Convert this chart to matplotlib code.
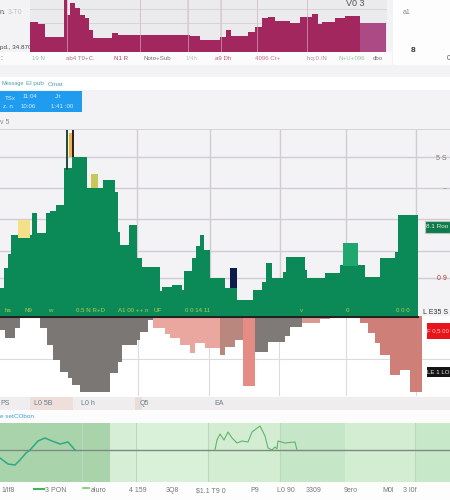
import matplotlib
matplotlib.use("Agg")
import matplotlib.pyplot as plt
from matplotlib.patches import Rectangle
import numpy as np

plt.rcParams['font.family'] = ['Liberation Sans', 'DejaVu Sans']

# ---------- data ----------
top_edges = [30,38,41,45,64,67,70,75,80,85,89,93,112,118,140,190,200,220,226,231,248,255,262,268,275,290,300,312,318,322,335,345,360,386]
top_values = [30,28,28,15,52,37,49,44,37,34,22,14,19,17,17,16,12,15,22,16,20,25,34,35,31,29,35,38,28,30,34,36,29]
top_light_from = 360

main_edges = [0,4,8,11,32,37,46,50,56,64,72,87,90,103,115,118,120,129,137,142,160,162,172,182,184,192,196,200,204,210,225,237,253,262,266,272,283,286,305,307,325,340,343,358,365,380,395,398,418]
main_values = [28,48,62,81,103,83,103,105,111,148,159,128,128,136,124,84,71,91,58,49,25,29,31,26,45,58,70,81,66,38,28,16,26,34,53,38,44,59,46,38,43,51,62,51,39,58,64,101]
spike_x = [67, 73]
spike_top = [186, 186]
spike_base = [146, 159]
spike_colors = ['#1f4a33', '#2a2018']
bump_edges = [18, 30, 91, 98, 69, 73, 230, 237]
bump_tops = [96, 96, 142, 142, 183, 183, 48, 48]
bump_bases = [78, 78, 128, 128, 159, 159, 28, 28]
bump_colors = ['#f5e08a', '#c9c65a', '#eeb04a', '#0b1d4d']
highlight_x = [343, 358]
highlight_value = [73, 73]

neg_edges = [0,5,15,20,40,47,53,60,68,72,80,110,118,122,137,140,148,153,165,170,180,190,195,205,220,225,235,243,255,268,285,290,302,320,330,350,355,360,368,375,380,390,400,410,422]
neg_values = [14,22,12,2,12,29,44,56,62,69,76,57,46,29,24,16,4,12,18,22,29,37,27,32,39,31,24,70,36,26,20,11,7,3,0,4,0,7,17,27,39,59,54,76]
neg_seg_edges = [0,150,210,243,255,300,330,360,422]
neg_seg_colors = ['#7b7775','#e9a79f','#b9877e','#e58d84','#7f7a78','#d99a90','#ffffff','#cd7f78']

band_edges = [0,110,135,208,280,345,415,450]
band_colors = ['#a9d4ab','#d6eed6','#d9f0d9','#d3edd3','#c5e6c7','#d3edd3','#c8e8ca']
line1_x = [0,8,15,20,26,30,38,45,52,60,68,75]
line1_y = [-8,-14,-15,-10,-3,0,9,12,9,6,8,0]
line2_x = [215,217,220,224,228,232,237,242,248,252,260,265,268,272,275,277,278,285,295,297]
line2_y = [0,10,16,10,18,12,7,9,8,18,24,14,2,0,3,1,9,7,8,0]

top_labels = ['19 N','ab4 T0+C.','N1 R','Noto+Sub','1/4h','a9 Dh','4096 Ct+','hq:0 /N','N+U+096','dbo']
top_label_x = [38,80,121,157,192,223,268,317,352,378]
top_label_colors = ['#9fb7b5','#b2708a','#b8406e','#777777','#b9c4c0','#c9567c','#c9708a','#b88aa8','#9cc4a4','#777777']
bottom_labels = ['1/lf8','3 PON','aluro','4 159','3Q8','$1.1 T9 0','P9','L0 90','3309','9ero','M0l','3 l0f']
bottom_label_x = [8,56,99,138,172,211,255,286,314,351,388,410]
strip_labels = ['PS','L0 5B','L0 h','Q5','EA']
strip_label_x = [5,43,88,144,219]

fig = plt.figure(figsize=(4.5, 5), dpi=100, facecolor='#f3f2f4')

def px_axes(x0, y0, x1, y1, z=1):
    a = fig.add_axes([x0/450, 1-y1/500, (x1-x0)/450, (y1-y0)/500], zorder=z)
    for s in a.spines.values():
        s.set_visible(False)
    a.tick_params(left=False, bottom=False, labelleft=False, labelbottom=False)
    return a

def seg_color(x, edges, colors):
    return colors[min(np.searchsorted(edges, x, side='right')-1, len(colors)-1)]

# page chrome
bg = px_axes(0, 0, 450, 500, 0)
bg.set_xlim(0, 450); bg.set_ylim(500, 0); bg.set_facecolor('#f3f2f4')
def rect(x0, y0, x1, y1, c, **k):
    bg.add_patch(Rectangle((x0, y0), x1-x0, y1-y0, facecolor=c, edgecolor=k.pop('ec', 'none'), lw=k.pop('lw', 0), **k))
rect(0, 52, 392, 65, '#fbfbfb')
rect(393, 0, 450, 65, '#fdfdfd')
rect(0, 77, 450, 90, '#ffffff')
rect(0, 91, 82, 112, '#1f9bf0')
rect(0, 129, 450, 130, '#d4d3d6')
rect(0, 316, 450, 397, '#ffffff')
rect(0, 397, 450, 410, '#efeded')
rect(30, 397, 73, 410, '#eedfda')
rect(135, 397, 142, 410, '#e6dfd8')
rect(0, 410, 450, 423, '#fcfcfc')
rect(0, 482, 450, 500, '#fdfdfd')

# top panel
ax_top = px_axes(30, 0, 387, 52, 2)
ax_top.set_xlim(30, 387); ax_top.set_ylim(0, 52); ax_top.set_facecolor('#ebebed')
ax_top.set_yticks([29, 43]); ax_top.set_xticks([67, 140, 187, 220, 257, 307])
ax_top.grid(True, color='#d6d5d8', lw=0.7); ax_top.set_axisbelow(True)
tl = np.array(top_edges[:-1]); tw = np.diff(top_edges)
ax_top.bar(tl, top_values, width=tw, align='edge', lw=0,
           color=['#ac4a86' if e >= top_light_from else '#a2275f' for e in tl])
for vx in [67, 140, 188, 221, 257, 307]:
    ax_top.axvline(vx, color='#d9b3c6', lw=0.6, alpha=.7)
ax_top.text(346, 48, 'V0 3', fontsize=6.5, color='#555555', va='center', ha='left')
for x, s, c in zip(top_label_x, top_labels, top_label_colors):
    bg.text(x, 58.5, s, fontsize=4.4, color=c, ha='center', va='center')
bg.text(0, 13, 'n.', fontsize=5, color='#555', va='center')
bg.text(8, 13, '3-T0', fontsize=5, color='#b8c4cc', va='center')
bg.text(0, 48, 'pd., 34.870', fontsize=4.5, color='#444', va='center', zorder=5)
bg.text(0, 58, ':', fontsize=5, color='#444', va='center')
bg.text(403, 12, 'a1', fontsize=5, color='#888', va='center')
bg.text(411, 51, '8', fontsize=6, color='#333', va='center', weight='bold')
bg.text(447, 58, '0', fontsize=5, color='#555', va='center')
bg.text(1, 84, 'Message', fontsize=4.0, color='#4aa0a8', va='center', ha='left')
bg.text(26, 84, 'El pub', fontsize=4.6, color='#4aa0a8', va='center')
bg.text(48, 84, 'Omar', fontsize=4.6, color='#4aa0a8', va='center')
for x, y, s in [(5, 98, 'TSx'), (30, 97, '11:04'), (58, 97, 'J:t'), (3, 106, 'z. n'), (28, 106, '10:06'), (62, 106, '1:41 :00')]:
    bg.text(x, y, s, fontsize=4.4, color='#d9f0ff', ha='center' if x > 5 else 'left', va='center')
bg.text(0, 122, 'v 5', fontsize=5, color='#888', va='center')

# main panel
ax = px_axes(0, 130, 450, 316, 2)
ax.set_xlim(0, 450); ax.set_ylim(0, 186); ax.patch.set_alpha(0)
ax.set_yticks([38, 65, 97, 128, 159]); ax.set_xticks([137, 210, 280, 346, 416])
ax.grid(True, color='#d0ced4', lw=1.0); ax.set_axisbelow(True)
ax.bar(main_edges[:-1], main_values, width=np.diff(main_edges), align='edge', color='#0b8a58', lw=0, zorder=3)
for i, c in enumerate(bump_colors):
    ax.fill_between(bump_edges[2*i:2*i+2], bump_bases[2*i:2*i+2], bump_tops[2*i:2*i+2], color=c, lw=0, zorder=4)
ax.fill_between(highlight_x, 50, highlight_value, color='#1fa76e', lw=0, zorder=4)
for x, t, b, c in zip(spike_x, spike_top, spike_base, spike_colors):
    ax.vlines(x, b, t, color=c, lw=1.4, zorder=5)
for x, s in [(8, 'ha'), (28, 'N9'), (50, 'w'), (90, '0.5 N R+D'), (133, 'A1 00 ++ n'), (158, 'UF'), (198, '0 0 14 11'), (302, 'v'), (347, '0'), (403, '0 0 0')]:
    ax.text(x, 5, s, fontsize=4.4, color='#b7c94f', ha='center', va='center', zorder=6)
ax.text(447, 158, '5 S', fontsize=5, color='#777', ha='right', va='center', zorder=6)
ax.text(447, 127, '–', fontsize=5, color='#888', ha='right', va='center', zorder=6)
ax.text(447, 38, '0 9', fontsize=5, color='#b04040', ha='right', va='center', zorder=6)
ax.text(448, 4, 'L E35 S', fontsize=5, color='#333', ha='right', va='center', zorder=6)
ax.add_patch(Rectangle((425, 83), 25, 12, facecolor='#0e7a4e', edgecolor='#b9c4bf', lw=0.8, zorder=6))
ax.text(437, 89, '8.1 Roo', fontsize=4.6, color='#e8f5d0', ha='center', va='center', zorder=7)

# lower (negative) panel
ax_neg = px_axes(0, 316, 450, 396, 2)
ax_neg.set_xlim(0, 450); ax_neg.set_ylim(80, 0); ax_neg.patch.set_alpha(0)
ax_neg.set_yticks([43]); ax_neg.set_xticks([138, 209, 279, 346, 416])
ax_neg.grid(True, color='#dcdcde', lw=0.8); ax_neg.set_axisbelow(True)
nl = np.array(neg_edges[:-1])
ax_neg.bar(nl, neg_values, width=np.diff(neg_edges), align='edge', lw=0, zorder=3,
           color=[seg_color(x, neg_seg_edges, neg_seg_colors) for x in nl])
ax_neg.axhline(0.5, color='#222222', lw=1.5, zorder=5, xmax=418/450)
ax_neg.add_patch(Rectangle((427, 7), 23, 16, facecolor='#e8141c', zorder=6))
ax_neg.text(438, 15, 'F 0,5 00', fontsize=4.3, color='#ffc9c0', ha='center', va='center', zorder=7)
ax_neg.add_patch(Rectangle((427, 51), 23, 10, facecolor='#141414', zorder=6))
ax_neg.text(438, 56, 'LE 1 LO', fontsize=4.4, color='#e8e8e8', ha='center', va='center', zorder=7)

# strip labels
for x, s in zip(strip_label_x, strip_labels):
    bg.text(x, 403.5, s, fontsize=5, color='#6a7a88', ha='center', va='center')
bg.text(0, 416, 'e setCObon', fontsize=4.6, color='#3aa0d8', va='center')

# green panel
ax_g = px_axes(0, 423, 450, 482, 2)
ax_g.set_xlim(0, 450); ax_g.set_ylim(-32, 27); ax_g.patch.set_alpha(0)
ax_g.bar(band_edges[:-1], [59]*len(band_colors), bottom=-32, width=np.diff(band_edges), align='edge', color=band_colors, lw=0)
ax_g.set_xticks([82, 136, 208, 280, 415]); ax_g.set_yticks([])
ax_g.grid(True, axis='x', color='#bcd8bc', lw=0.8); ax_g.set_axisbelow(False)
ax_g.axhline(0, color='#7d8a80', lw=1.0, zorder=3)
ax_g.plot(line1_x, line1_y, color='#2fa985', lw=1.1, zorder=4)
ax_g.plot(line2_x, line2_y, color='#62b36a', lw=0.8, zorder=4)

for x, s in zip(bottom_label_x, bottom_labels):
    bg.text(x, 491, s, fontsize=5, color='#777777', ha='center', va='center')
bg.plot([34, 44], [488.5, 488.5], color='#43b45a', lw=1.5)
bg.plot([83, 89], [488, 488], color='#6fc96a', lw=1.2)
bg.set_xlim(0, 450); bg.set_ylim(500, 0)

fig.savefig('out.png', dpi=100, facecolor=fig.get_facecolor())
